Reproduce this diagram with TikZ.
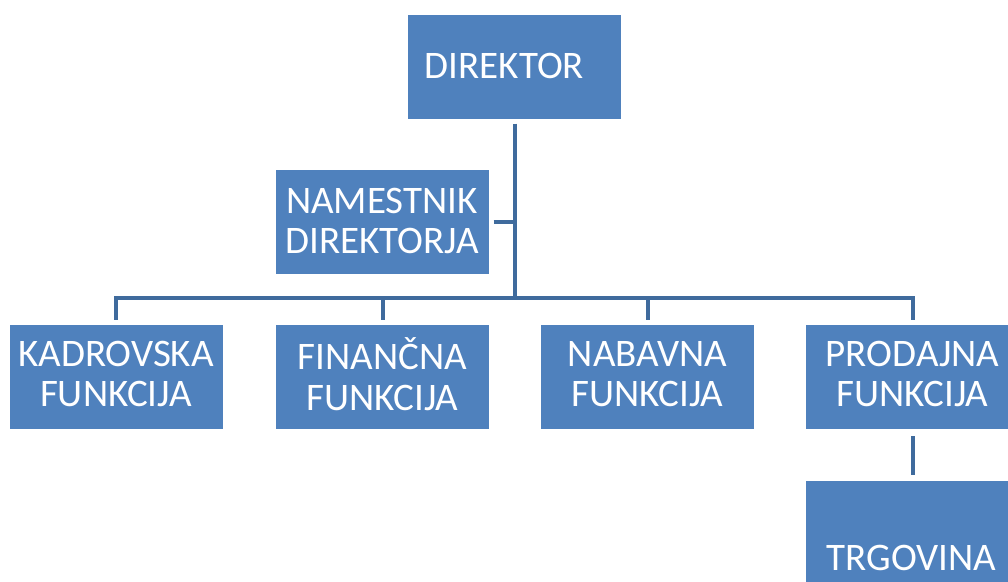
\documentclass[tikz,border=0pt]{standalone}
\usepackage{fontspec}
\setmainfont{Carlito}
\definecolor{boxfill}{HTML}{4F81BD}
\definecolor{linecol}{HTML}{3F6B9D}
\begin{document}
\begin{tikzpicture}[x=1pt,y=-1pt,
  orgbox/.style={draw=none,fill=boxfill,minimum width=213pt,minimum height=104pt,inner sep=0pt},
  lbl/.style={text=white,font=\fontsize{39}{40.5}\selectfont,align=center,inner sep=0pt},
  conn/.style={draw=linecol,line width=4pt,line join=miter}]
\useasboundingbox (0,0) rectangle (1008,581);
\fill[white] (0,0) rectangle (1008,581);
% boxes
\node[orgbox] (dir) at (514.5,66.5) {};
\node[orgbox] (nam) at (382,222) {};
\node[orgbox] (kad) at (116,377) {};
\node[orgbox] (fin) at (382.5,377) {};
\node[orgbox] (nab) at (647.5,377) {};
\node[orgbox] (pro) at (912.5,377) {};
\node[orgbox,minimum height=120pt] (trg) at (912.5,541) {};
% labels
\node[lbl] (tdir) at (504.5,66) {DIREKTOR};
\node[lbl] (tnam) at (382,221) {NAMESTNIK\\DIREKTORJA};
\node[lbl] (tkad) at (116,374) {KADROVSKA\\FUNKCIJA};
\node[lbl] (tfin) at (382.5,374) {FINANČNA\\FUNKCIJA};
\node[lbl] (tnab) at (647.5,374) {NABAVNA\\FUNKCIJA};
\node[lbl] (tpro) at (912.5,374) {PRODAJNA\\FUNKCIJA};
\node[lbl] (ttrg) at (911.5,558) {TRGOVINA};
% connectors
\coordinate (bus) at (515,298);
\draw[conn,shorten <=5pt] (dir.south) -- (dir.south |- bus);
\draw[conn,shorten <=5pt] (nam.east) -- (nam.east -| dir.south);
\draw[conn,shorten >=5pt] (dir.south |- bus) -| (kad.north);
\draw[conn,shorten >=5pt] (dir.south |- bus) -| (fin.north);
\draw[conn,shorten >=5pt] (dir.south |- bus) -| (nab.north);
\draw[conn,shorten >=5pt] (dir.south |- bus) -| (pro.north);
\draw[conn,shorten <=7pt,shorten >=6pt] (pro.south) -- (trg.north);
\end{tikzpicture}
\end{document}
